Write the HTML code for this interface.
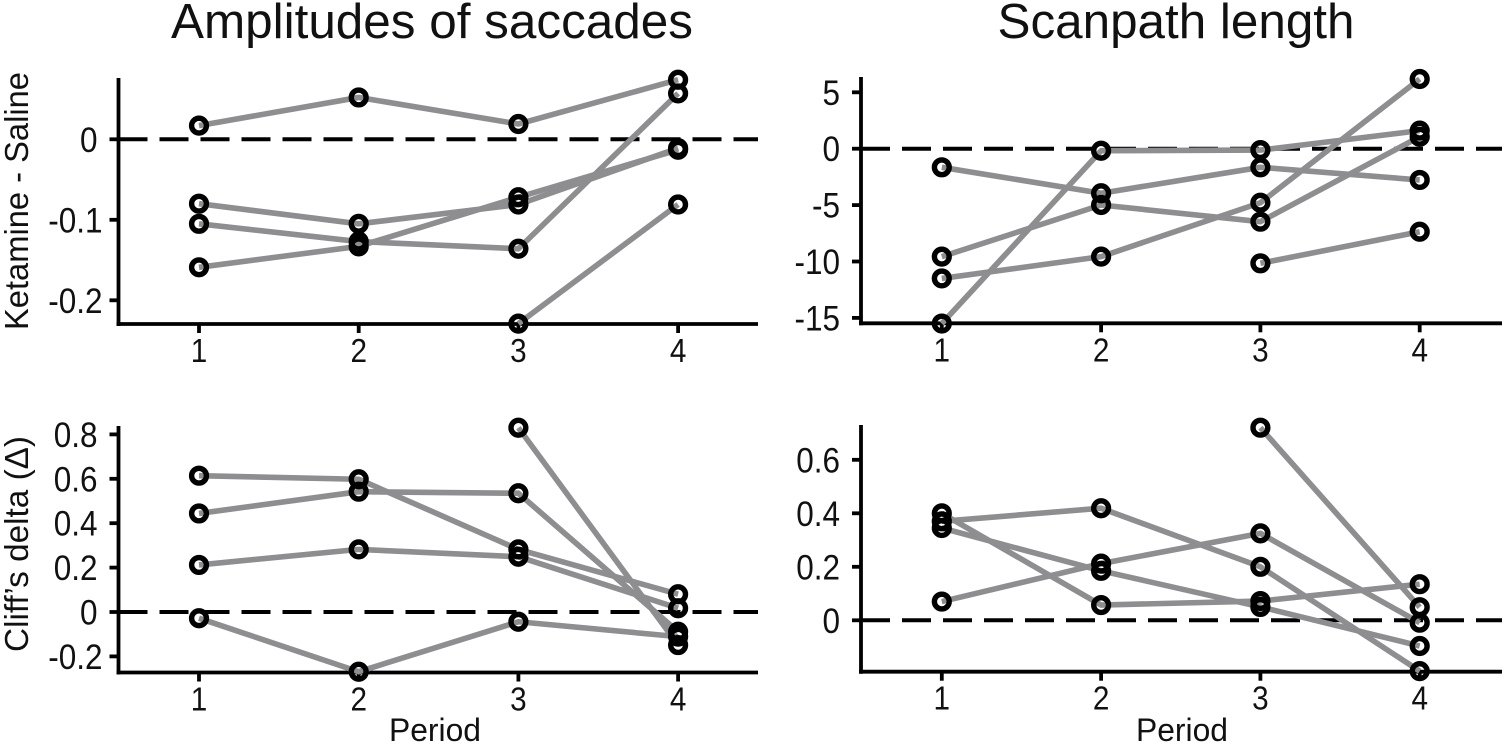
<!DOCTYPE html>
<html lang="en">
<head>
<meta charset="utf-8">
<title>Amplitudes of saccades and scanpath length</title>
<style>
html,body{margin:0;padding:0;background:#fff;width:1505px;height:746px;overflow:hidden}
svg{display:block}
text{font-family:"Liberation Sans",Arial,sans-serif;fill:#111}
</style>
</head>
<body>
<svg id="chart" xmlns="http://www.w3.org/2000/svg" width="1505" height="746" viewBox="0 0 1505 746">
  <text x="432" y="38" font-size="49" text-anchor="middle" textLength="522" lengthAdjust="spacingAndGlyphs">Amplitudes of saccades</text>
  <text x="1176" y="38" font-size="49" text-anchor="middle" textLength="357" lengthAdjust="spacingAndGlyphs">Scanpath length</text>
  <text transform="translate(28 201) rotate(-90)" font-size="33" text-anchor="middle" textLength="258" lengthAdjust="spacingAndGlyphs">Ketamine - Saline</text>
  <text transform="translate(28 544) rotate(-90)" font-size="33" text-anchor="middle" textLength="216" lengthAdjust="spacingAndGlyphs">Cliff’s delta (Δ)</text>
  <text x="435" y="741" font-size="32" text-anchor="middle" textLength="92" lengthAdjust="spacingAndGlyphs">Period</text>
  <text x="1182" y="741" font-size="32" text-anchor="middle" textLength="92" lengthAdjust="spacingAndGlyphs">Period</text>
</svg>
<script>
const periods = [1, 2, 3, 4];

const amplitudeDiffTicks = [0, -0.1, -0.2];
const amplitudeDiffTickLabels = ['0', '-0.1', '-0.2'];
const amplitudeDiffS1 = [0.017, 0.052, 0.019, 0.074];
const amplitudeDiffS2 = [-0.08, -0.105, -0.081, -0.011];
const amplitudeDiffS3 = [-0.105, -0.127, -0.136, 0.057];
const amplitudeDiffS4 = [-0.159, -0.133, -0.072, -0.013];
const amplitudeDiffS5 = [null, null, -0.229, -0.081];

const amplitudeCliffTicks = [0.8, 0.6, 0.4, 0.2, 0, -0.2];
const amplitudeCliffTickLabels = ['0.8', '0.6', '0.4', '0.2', '0', '-0.2'];
const amplitudeCliffS1 = [0.614, 0.598, 0.282, 0.08];
const amplitudeCliffS2 = [0.444, 0.542, 0.535, -0.089];
const amplitudeCliffS3 = [0.212, 0.282, 0.249, 0.017];
const amplitudeCliffS4 = [-0.028, -0.269, -0.044, -0.111];
const amplitudeCliffS5 = [null, null, 0.83, -0.149];

const scanpathDiffTicks = [5, 0, -5, -10, -15];
const scanpathDiffTickLabels = ['5', '0', '-5', '-10', '-15'];
const scanpathDiffS1 = [-1.65, -3.95, -1.65, -2.77];
const scanpathDiffS2 = [-9.57, -4.99, -6.47, 1.06];
const scanpathDiffS3 = [-11.5, -9.57, -4.79, 6.18];
const scanpathDiffS4 = [-15.5, -0.18, -0.12, 1.6];
const scanpathDiffS5 = [null, null, -10.16, -7.36];

const scanpathCliffTicks = [0.6, 0.4, 0.2, 0];
const scanpathCliffTickLabels = ['0.6', '0.4', '0.2', '0'];
const scanpathCliffS1 = [0.37, 0.419, 0.2, -0.19];
const scanpathCliffS2 = [0.07, 0.212, 0.325, -0.009];
const scanpathCliffS3 = [0.345, 0.185, 0.05, -0.096];
const scanpathCliffS4 = [0.4, 0.057, 0.072, 0.135];
const scanpathCliffS5 = [null, null, 0.72, 0.049];

const svg = document.getElementById('chart');
const NS = 'http://www.w3.org/2000/svg';

function make(tag, parent, attrs) {
  const el = document.createElementNS(NS, tag);
  for (const k in attrs) el.setAttribute(k, attrs[k]);
  parent.appendChild(el);
  return el;
}

function drawPanel(name, box, ticks, tickLabels, seriesList) {
  const xScale = p => box.x1 + (p - 1) * box.xStep;
  const yScale = v => box.y0 - v * box.yPerUnit;

  const g = make('g', svg, {});
  
  

  const zero = make('line', g, {x1: box.left, x2: box.right, y1: yScale(0), y2: yScale(0), stroke: '#000', 'stroke-width': 4, 'stroke-dasharray': '29 12'});
  
  

  const yAxis = make('line', g, {x1: box.left, x2: box.left, y1: box.top, y2: box.bottom + 2, stroke: '#000', 'stroke-width': 3.8});
  
  

  const xAxis = make('line', g, {x1: box.left - 2, x2: box.right, y1: box.bottom, y2: box.bottom, stroke: '#000', 'stroke-width': 3.8});
  
  

  ticks.forEach((t, i) => {
    const y = yScale(t);
    const tk = make('line', g, {x1: box.left - 9, x2: box.left, y1: y, y2: y, stroke: '#000', 'stroke-width': 3.8});
    
    
    const shift = tickLabels[i].startsWith('-0.') ? 5 : 0;
    const lb = make('text', g, {transform: 'translate(' + (box.left - 21 + shift) + ' ' + (y + 12.5) + ') scale(0.9 1)', 'font-size': 35, 'text-anchor': 'end'});
    
    
    lb.textContent = tickLabels[i];
  });

  periods.forEach(p => {
    const x = xScale(p);
    const tk = make('line', g, {x1: x, x2: x, y1: box.bottom, y2: box.bottom + 9, stroke: '#000', 'stroke-width': 3.8});
    
    
    const lb = make('text', g, {transform: 'translate(' + x + ' ' + (box.bottom + 38) + ') scale(0.9 1)', 'font-size': 33, 'text-anchor': 'middle'});
    
    
    lb.textContent = String(p);
  });

  seriesList.forEach((values, s) => {
    const pts = [];
    values.forEach((v, i) => { if (v !== null) pts.push(xScale(periods[i]) + ',' + yScale(v)); });
    const line = make('polyline', g, {points: pts.join(' '), fill: 'none', stroke: '#8e8e90', 'stroke-width': 5.6, 'stroke-linejoin': 'round'});
    
    
  });

  seriesList.forEach((values, s) => {
    values.forEach((v, i) => {
      if (v === null) return;
      const c = make('circle', g, {cx: xScale(periods[i]), cy: yScale(v), r: 7.4, fill: 'none', stroke: '#000', 'stroke-width': 5.4});
      
      
    });
  });
}

drawPanel('amplitude-difference',
  {left: 118.5, right: 758, top: 78, bottom: 324, x1: 199, xStep: 159.7, y0: 139.3, yPerUnit: 805},
  amplitudeDiffTicks, amplitudeDiffTickLabels,
  [amplitudeDiffS1, amplitudeDiffS2, amplitudeDiffS3, amplitudeDiffS4, amplitudeDiffS5]);

drawPanel('amplitude-cliffs-delta',
  {left: 118.5, right: 758, top: 426, bottom: 672.5, x1: 199, xStep: 159.7, y0: 612, yPerUnit: 222},
  amplitudeCliffTicks, amplitudeCliffTickLabels,
  [amplitudeCliffS1, amplitudeCliffS2, amplitudeCliffS3, amplitudeCliffS4, amplitudeCliffS5]);

drawPanel('scanpath-difference',
  {left: 861, right: 1502, top: 77, bottom: 323.3, x1: 941.8, xStep: 159.3, y0: 148.7, yPerUnit: 11.28},
  scanpathDiffTicks, scanpathDiffTickLabels,
  [scanpathDiffS1, scanpathDiffS2, scanpathDiffS3, scanpathDiffS4, scanpathDiffS5]);

drawPanel('scanpath-cliffs-delta',
  {left: 861, right: 1502, top: 425, bottom: 671.7, x1: 941.8, xStep: 159.3, y0: 620.3, yPerUnit: 267.5},
  scanpathCliffTicks, scanpathCliffTickLabels,
  [scanpathCliffS1, scanpathCliffS2, scanpathCliffS3, scanpathCliffS4, scanpathCliffS5]);
</script>
</body>
</html>
